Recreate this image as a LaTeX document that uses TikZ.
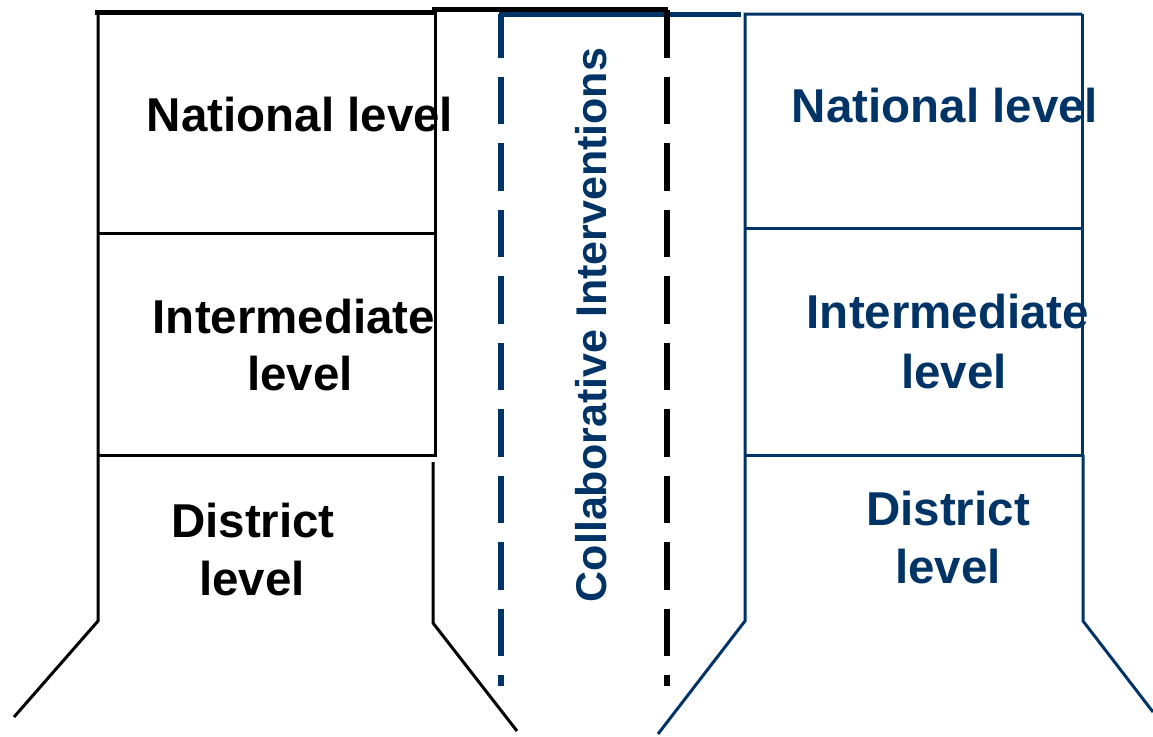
\documentclass[tikz,border=0pt]{standalone}
\usepackage{fontspec}
\setmainfont{Liberation Sans}
\definecolor{navy}{RGB}{0,51,102}
\newcommand*{\lvlfont}{\fontsize{47.5}{52}\selectfont\bfseries}
\tikzset{lvl/.style={font=\lvlfont, inner sep=0pt, anchor=base}}
\tikzset{wall/.style={line width=3pt}}
\tikzset{seam/.style={line width=5.5pt, dash pattern=on 47.5pt off 19pt}}

\begin{document}
\begin{tikzpicture}[x=1pt, y=-1pt]
    \useasboundingbox(0, 0)rectangle(1153, 736);
    \draw[line width=5pt](95, 12)--(435, 12);
    \draw[line width=5pt](432, 9)--(668, 9);
    \draw[wall](98, 12)--(98, 621)--(14, 717);
    \draw[wall](435, 12)--(435, 455)--(98, 455);
    \draw[wall](98, 233)--(435, 233);
    \draw[wall](433, 462)--(433, 623)--(517, 731);
    \draw[navy, line width=5pt](499, 14)--(741, 14);
    \draw[navy, seam, dash phase=4pt](501, 14)--(501, 686);
    \draw[seam](667, 10)--(667, 686);
    \draw[navy, wall](1082, 14)--(745, 14)--(745, 621)--(658, 734);
    \draw[navy, wall](1082, 14)--(1082, 455)--(745, 455);
    \draw[navy, wall](745, 228)--(1082, 228);
    \draw[navy, wall](1083, 455)--(1083, 621)--(1153, 712);
    \node[lvl](natL)at(300, 131){National level};
    \node[lvl](intL)at(294, 333){Intermediate};
    \node[lvl](intLb)at(300, 390){level};
    \node[lvl](disL)at(253, 537){District};
    \node[lvl](disLb)at(252, 595){level};
    \node[lvl, navy](natR)at(945, 122){National level};
    \node[lvl, navy](intR)at(948, 328){Intermediate};
    \node[lvl, navy](intRb)at(954, 388){level};
    \node[lvl, navy](disR)at(948, 525){District};
    \node[lvl, navy](disRb)at(948, 583){level};
    \node[lvl, navy, font=\fontsize{43}{46}\selectfont\bfseries, rotate=90](collab)at(606, 325){Collaborative Interventions};
\end{tikzpicture}
\end{document}
